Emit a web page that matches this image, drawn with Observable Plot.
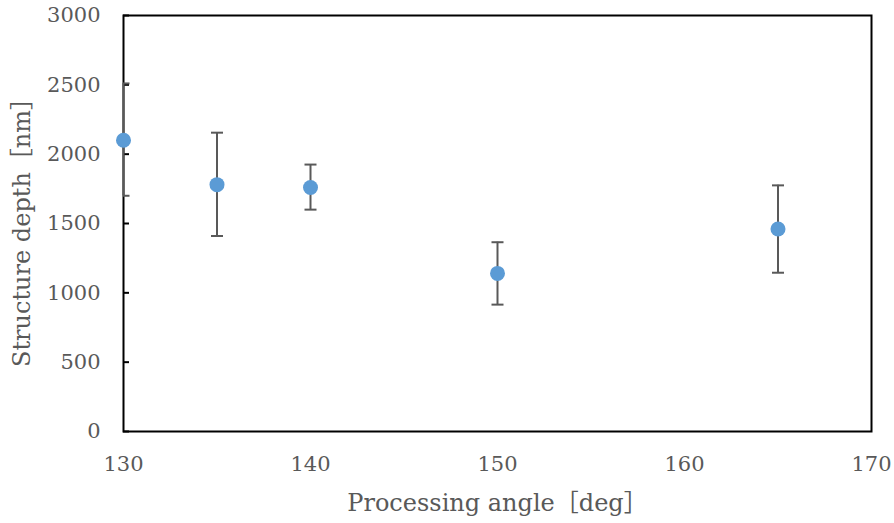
<!DOCTYPE html>
<html>
<head>
<meta charset="utf-8">
<script src="https://cdn.jsdelivr.net/npm/d3@7"></script>
<script src="https://cdn.jsdelivr.net/npm/@observablehq/plot@0.6"></script>
<style>
  html, body { margin: 0; padding: 0; background: #fff; }
  #chart svg { display: block; }
</style>
</head>
<body>
<div id="chart"></div>
<script>
const angles = [130, 135, 140, 150, 165];
const depths = [2100, 1780, 1760, 1140, 1460];
const errHigh = [2510, 2155, 1925, 1365, 1775];
const errLow  = [1700, 1410, 1600, 915, 1145];
const xTicks = [130, 140, 150, 160, 170];
const yTicks = [0, 500, 1000, 1500, 2000, 2500, 3000];
const xLabel = "Processing angle［deg］";
const yLabel = "Structure depth［nm］";

const data = angles.map((a, i) => ({x: a, y: depths[i], hi: errHigh[i], lo: errLow[i]}));

const capSymbol = {
  draw(context) { context.moveTo(-6, 0); context.lineTo(6, 0); }
};

const textColor = "#595959";

const chart = Plot.plot({
  width: 894,
  height: 523,
  marginLeft: 123,
  marginRight: 23,
  marginTop: 15,
  marginBottom: 92,
  style: { fontFamily: "'DejaVu Serif', 'Noto Sans CJK JP', serif", fontSize: "21px", color: textColor, background: "#fff" },
  x: { domain: [130, 170] },
  y: { domain: [0, 3000] },
  marks: [
    Plot.axisX({ ticks: xTicks, tickSize: 0, tickPadding: 25, label: null, fill: textColor, tickFormat: d3.format("d"), fontSize: 21 }),
    Plot.axisY({ ticks: yTicks, tickSize: 0, tickPadding: 23, label: null, fill: textColor, tickFormat: d3.format("d"), fontSize: 21 }),
    Plot.axisY({ ticks: yTicks, tickSize: 6, dx: 6, fill: "none", label: null, stroke: "black", strokeWidth: 2 }),
    Plot.frame({ stroke: "black", strokeWidth: 2 }),
    Plot.ruleX(data, { x: "x", y1: "lo", y2: "hi", stroke: "#595959", strokeWidth: 2 }),
    Plot.dot(data, { x: "x", y: "hi", symbol: capSymbol, r: 6, stroke: "#595959", strokeWidth: 2, clip: "frame" }),
    Plot.dot(data, { x: "x", y: "lo", symbol: capSymbol, r: 6, stroke: "#595959", strokeWidth: 2, clip: "frame" }),
    Plot.dot(data, { x: "x", y: "y", r: 7.5, fill: "#5b9bd5", stroke: "none" }),
    Plot.text([xLabel], { text: d => d, frameAnchor: "bottom", textAnchor: "middle", lineAnchor: "middle", dy: 72, fill: textColor, fontSize: 24 }),
    Plot.text([yLabel], { text: d => d, frameAnchor: "left", textAnchor: "middle", lineAnchor: "middle", rotate: -90, dx: -101, dy: 3, fill: textColor, fontSize: 24 })
  ]
});
document.getElementById("chart").appendChild(chart);
</script>
</body>
</html>
